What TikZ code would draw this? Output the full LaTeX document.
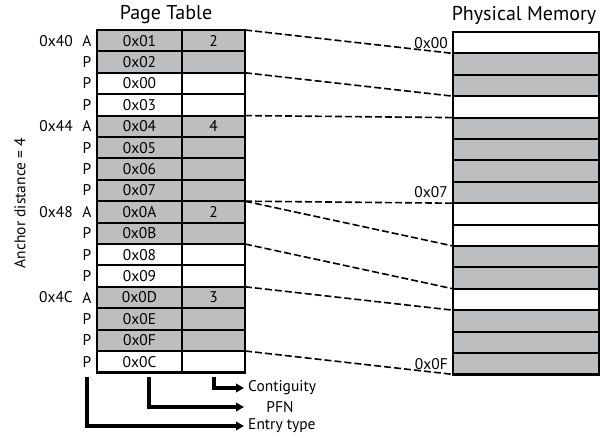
\documentclass[tikz,border=0pt]{standalone}
\usepackage{fontspec}
\setmainfont{PT Sans}
\usetikzlibrary{arrows.meta}
\definecolor{framegray}{RGB}{188,190,192}
\tikzset{
  celltext/.style={inner sep=0pt, font=\fontsize{15.5}{17}\selectfont},
  rowline/.style={line width=2pt},
  boxline/.style={line width=2.4pt},
  maplink/.style={line width=1.6pt, dash pattern=on 7pt off 3pt},
  guide/.style={line width=3.2pt, -{Triangle[length=8pt,width=8.5pt]}},
  title/.style={font=\fontsize{20}{22}\selectfont}
}
\begin{document}
\begin{tikzpicture}[x=1pt,y=-1pt]
    \useasboundingbox (0,0) rectangle (611,438);

    % page table rows
    \foreach \pfn/\cnt/\shade/\typ/\addr [count=\i from 0] in {
        0x01/2/framegray/A/0x40, 0x02/{}/framegray/P/{}, 0x00/{}/white/P/{}, 0x03/{}/white/P/{},
        0x04/4/framegray/A/0x44, 0x05/{}/framegray/P/{}, 0x06/{}/framegray/P/{}, 0x07/{}/framegray/P/{},
        0x0A/2/framegray/A/0x48, 0x0B/{}/framegray/P/{}, 0x08/{}/white/P/{}, 0x09/{}/white/P/{},
        0x0D/3/framegray/A/0x4C, 0x0E/{}/framegray/P/{}, 0x0F/{}/framegray/P/{}, 0x0C/{}/white/P/{}} {
        \pgfmathsetmacro\rowy{30+\i*21.4}
        \fill[\shade] (97,\rowy) rectangle (245,\rowy+21.4);
        \draw[rowline] (97,\rowy) -- (245,\rowy);
        \node[celltext] (pfn\i) at (139.5,\rowy+10.7) {\pfn};
        \node[celltext] (cnt\i) at (213.5,\rowy+10.7) {\cnt};
        \node[celltext] (typ\i) at (87,\rowy+10.7) {\typ};
        \node[celltext, anchor=east] (addr\i) at (73,\rowy+10.7) {\addr};
    }
    \draw[rowline] (182,30) -- (182,372.4);
    \draw[boxline] (97,30) rectangle (245,372.4);

    % physical memory frames
    \foreach \shade [count=\i from 0] in {white, framegray, framegray, white,
        framegray, framegray, framegray, framegray, white, white,
        framegray, framegray, white, framegray, framegray, framegray} {
        \pgfmathsetmacro\rowy{32+\i*21.4}
        \fill[\shade] (453,\rowy) rectangle (599,\rowy+21.4);
        \draw[rowline] (453,\rowy) -- (599,\rowy);
    }
    \draw[boxline] (453,32) rectangle (599,374.4);

    % row boundaries
    \foreach \i in {0,...,16} {
        \coordinate (pt\i) at (245,30+\i*21.4);
        \coordinate (pm\i) at (453,32+\i*21.4);
    }

    \draw[maplink] (pt0) -- (pm1);
    \draw[maplink] (pt2) -- (pm3);
    \draw[maplink] (pt4) -- (pm4);
    \draw[maplink] (pt8) -- (pm8);
    \draw[maplink] (pt8) -- (pm10);
    \draw[maplink] (pt10) -- (pm12);
    \draw[maplink] (pt12) -- (pm13);
    \draw[maplink] (pt15) -- (pm16);

    \node[celltext, anchor=east] (frame00) at (448,42.7) {0x00};
    \node[celltext, anchor=east] (frame07) at (448,192.5) {0x07};
    \node[celltext, anchor=east] (frame0F) at (448,363.7) {0x0F};

    \node[title] (pagetable) at (166,15) {Page Table};
    \node[title] (physmem) at (524,15) {Physical Memory};
    \node[celltext, rotate=90] (anchordist) at (20,203) {Anchor distance = 4};

    % field legend
    \coordinate (typefoot) at (87,377);
    \coordinate (pfnfoot) at (149,377);
    \coordinate (contfoot) at (214,377);
    \coordinate (conttip) at (244,388);
    \coordinate (pfntip) at (244,407);
    \coordinate (typetip) at (244,426);
    \node[celltext, anchor=west] (contlabel) at (248,388) {Contiguity};
    \node[celltext] (pfnlabel) at (280,407) {PFN};
    \node[celltext, anchor=west] (typelabel) at (248,426) {Entry type};
    \draw[guide] (contfoot) |- (conttip);
    \draw[guide] (pfnfoot) |- (pfntip);
    \draw[guide] (typefoot) |- (typetip);
\end{tikzpicture}
\end{document}
